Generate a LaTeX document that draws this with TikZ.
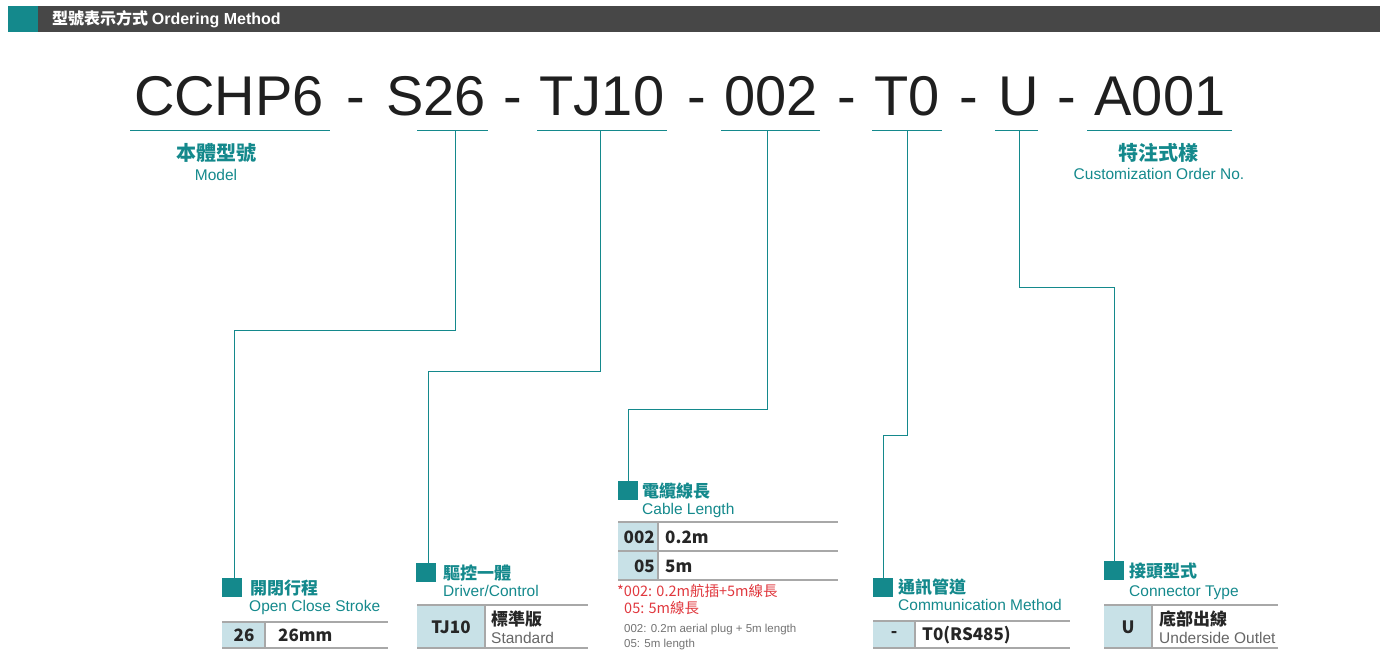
\documentclass[tikz,border=0pt]{standalone}
\usepackage{fontspec}
\setmainfont{Liberation Sans}
\newfontfamily\cjk{Noto Sans CJK TC}
\definecolor{teal1}{HTML}{14898C}
\definecolor{cellb}{HTML}{C8E1E7}
\definecolor{rule1}{HTML}{A8A8A8}
\definecolor{redt}{HTML}{E0383E}
\begin{document}
\begin{tikzpicture}[x=1pt,y=-1pt,
 seg/.style={anchor=base,font=\fontsize{56}{60}\selectfont,text=black!88,inner sep=0},
 ul/.style={draw=teal1,line width=0.8pt},
 lead/.style={draw=teal1,line width=0.9pt},
 sq/.style={fill=teal1},
 zh/.style={anchor=base west,inner sep=0,font=\cjk\fontsize{17}{18}\selectfont\bfseries,text=teal1},
 en/.style={anchor=base west,inner sep=0,font=\fontsize{15.5}{16}\selectfont,text=teal1},
 rl/.style={draw=rule1,line width=1.2pt},
 cell/.style={fill=cellb},
 ct/.style={inner sep=0,font=\cjk\fontsize{17}{18}\selectfont\bfseries,text=black!85},
 vt/.style={anchor=base west,inner sep=0,font=\cjk\fontsize{17}{18}\selectfont\bfseries,text=black!85},
 gt/.style={anchor=base west,inner sep=0,font=\fontsize{15.5}{16}\selectfont,text=black!60}]
\useasboundingbox (0,0) rectangle (1387,667);
\fill[black!72] (8,6) rectangle (1380,32);
\fill[teal1] (8,6) rectangle (38,32);
\node[anchor=west,text=white,font=\cjk\fontsize{16}{17}\selectfont\bfseries,inner sep=0] (title) at (52,19) {型號表示方式 {\fontspec{Liberation Sans}\bfseries Ordering Method}};
% big code
\node[seg] (m) at (229,115) {CCHP6};
\node[seg] (d1) at (356,115) {-};
\node[seg] (s) at (436,115) {S26};
\node[seg] (d2) at (513,115) {-};
\node[seg] (tj) at (602,115) {TJ10};
\node[seg] (d3) at (697,115) {-};
\node[seg] (c) at (771,115) {002};
\node[seg] (d4) at (847,115) {-};
\node[seg] (t) at (907,115) {T0};
\node[seg] (d5) at (969,115) {-};
\node[seg] (u) at (1019,115) {U};
\node[seg] (d6) at (1067,115) {-};
\node[seg] (a) at (1160,115) {A001};
\draw[ul] (130,130)--(330,130); \draw[ul] (417,130)--(488,130);
\draw[ul] (537,130)--(667,130); \draw[ul] (721,130)--(820,130);
\draw[ul] (872,130)--(942,130); \draw[ul] (995,130)--(1038,130);
\draw[ul] (1087,130)--(1232,130);
\node[anchor=base,inner sep=0,font=\cjk\fontsize{20}{22}\selectfont\bfseries,text=teal1] (mz) at (216,160) {本體型號};
\node[anchor=base,inner sep=0,font=\fontsize{15.5}{16}\selectfont,text=teal1] (me) at (216,180) {Model};
\node[anchor=base,inner sep=0,font=\cjk\fontsize{20}{22}\selectfont\bfseries,text=teal1] (az) at (1158,160) {特注式樣};
\node[anchor=base,inner sep=0,font=\fontsize{15.5}{16}\selectfont,text=teal1] (ae) at (1159,179) {Customization Order No.};
% leaders
\coordinate (p1) at (455,130); \coordinate (p1e) at (234,583);
\draw[lead] (p1)--(455,330)--(234,330)--(p1e);
\coordinate (p2) at (600,130); \coordinate (p2e) at (428,566);
\draw[lead] (p2)--(600,371)--(428,371)--(p2e);
\coordinate (p3) at (767,130); \coordinate (p3e) at (628,484);
\draw[lead] (p3)--(767,409)--(628,409)--(p3e);
\coordinate (p4) at (907,130); \coordinate (p4e) at (883,580);
\draw[lead] (p4)--(907,435)--(883,435)--(p4e);
\coordinate (p5) at (1019,130); \coordinate (p5e) at (1114,563);
\draw[lead] (p5)--(1019,287)--(1114,287)--(p5e);
% stroke block
\fill[sq] (222,578) rectangle (242,597);
\node[zh] (sz) at (250,594) {開閉行程};
\node[en] (se) at (249,611) {Open Close Stroke};
\fill[cell] (222,622) rectangle (265,648);
\draw[rl] (222,622)--(388,622); \draw[rl] (222,648)--(388,648); \draw[rl] (265,622)--(265,648);
\node[ct] (s1) at (244,635) {26};
\node[vt] (s2) at (278,641) {26mm};
% driver block
\fill[sq] (416,563) rectangle (436,582);
\node[zh] (dz) at (443,579) {驅控一體};
\node[en] (de) at (443,596) {Driver/Control};
\fill[cell] (417,605) rectangle (485,648);
\draw[rl] (417,605)--(588,605); \draw[rl] (417,648)--(588,648); \draw[rl] (485,605)--(485,648);
\node[ct] (dc) at (451,627) {TJ10};
\node[vt] (dv) at (491,625) {標準版};
\node[gt] (dg) at (491,643) {Standard};
% cable block
\fill[sq] (618,481) rectangle (638,500);
\node[zh] (cz) at (642,497) {電纜線長};
\node[en] (ce) at (642,514) {Cable Length};
\fill[cell] (618,522) rectangle (658,580);
\draw[rl] (618,522)--(838,522); \draw[rl] (618,551)--(838,551); \draw[rl] (618,580)--(838,580); \draw[rl] (658,522)--(658,580);
\node[ct,anchor=east] (c1) at (655,537) {002};
\node[ct,anchor=east] (c2) at (655,566) {05};
\node[vt] (c3) at (665,543) {0.2m};
\node[vt] (c4) at (665,572) {5m};
\node[anchor=base west,inner sep=0,font=\cjk\fontsize{14.5}{15}\selectfont,text=redt] (r1) at (617,596) {*002: 0.2m航插+5m線長};
\node[anchor=base west,inner sep=0,font=\cjk\fontsize{14.5}{15}\selectfont,text=redt] (r2) at (624,613) {05: 5m線長};
\node[anchor=base west,inner sep=0,font=\fontsize{11.5}{12}\selectfont,text=black!55] (g1) at (624,632) {002: 0.2m aerial plug + 5m length};
\node[anchor=base west,inner sep=0,font=\fontsize{11.5}{12}\selectfont,text=black!55] (g2) at (624,647) {05: 5m length};
% comm block
\fill[sq] (873,578) rectangle (893,597);
\node[zh] (tz) at (898,593) {通訊管道};
\node[en] (te) at (898,610) {Communication Method};
\fill[cell] (873,621) rectangle (915,648);
\draw[rl] (873,621)--(1070,621); \draw[rl] (873,648)--(1070,648); \draw[rl] (915,621)--(915,648);
\node[ct] (t1) at (894,634) {-};
\node[vt] (t2) at (922,640) {T0(RS485)};
% connector block
\fill[sq] (1104,561) rectangle (1124,580);
\node[zh] (uz) at (1129,577) {接頭型式};
\node[en] (ue) at (1129,596) {Connector Type};
\fill[cell] (1104,605) rectangle (1152,648);
\draw[rl] (1104,605)--(1278,605); \draw[rl] (1104,648)--(1278,648); \draw[rl] (1152,605)--(1152,648);
\node[ct] (u1) at (1128,627) {U};
\node[vt] (u2) at (1159,625) {底部出線};
\node[gt] (u3) at (1159,643) {Underside Outlet};
\end{tikzpicture}
\end{document}
